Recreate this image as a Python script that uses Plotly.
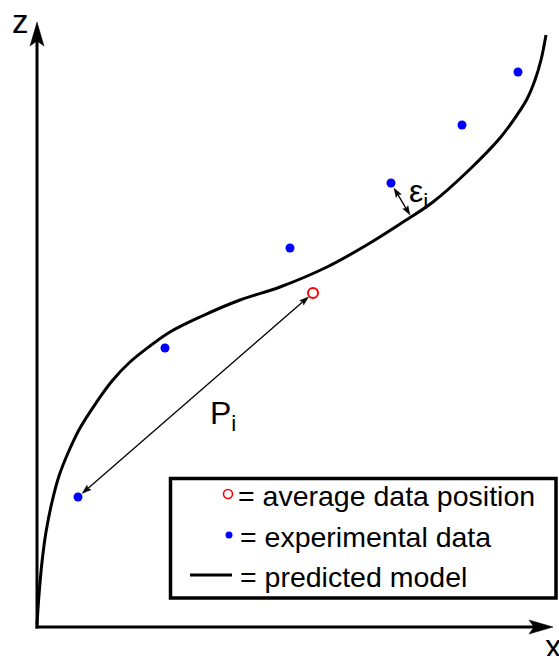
import math
import plotly.graph_objects as go

# Predicted model curve (x, z)
model_x = [0, 2, 5, 9, 15, 22, 31, 43, 59, 75, 93, 113, 133, 163, 203, 243, 290,
           328, 363, 396, 430, 463, 480, 490, 498, 504, 509]
model_z = [2, 32, 65, 95, 125, 151, 174, 199, 224, 246, 265, 281, 295, 310, 327, 340, 360,
           381, 403, 425, 455, 489, 512, 528, 547, 567, 592]

# Experimental data points
exp_x = [41, 128, 253, 354, 425, 481]
exp_z = [130, 279, 379, 444, 502, 555]

# Average data position
avg_x = [276]
avg_z = [334]

# Residual epsilon_i: from experimental point 3 to its foot on the model curve
eps_index = 3
eps_foot = (373, 412)

# Axis extents (1 unit = 1 px)
X_MIN, X_MAX = -37, 522
Z_MIN, Z_MAX = -29, 627
X_TIP = 516
Z_TIP = 605

FONT = "Liberation Sans, Arial, sans-serif"


def head_path(tx, ty, ux, uy, length, half, notch):
    px, py = -uy, ux
    bx, by = tx - ux * length, ty - uy * length
    nx, ny = tx - ux * (length - notch), ty - uy * (length - notch)
    return (f"M {tx:.2f},{ty:.2f} L {bx + px * half:.2f},{by + py * half:.2f} "
            f"L {nx:.2f},{ny:.2f} L {bx - px * half:.2f},{by - py * half:.2f} Z")


def arrow(x0, y0, x1, y1, width, length, half, notch, start=True, end=True,
          off0=0.0, off1=0.0):
    dx, dy = x1 - x0, y1 - y0
    d = math.hypot(dx, dy)
    ux, uy = dx / d, dy / d
    sx, sy = x0 + ux * off0, y0 + uy * off0
    ex, ey = x1 - ux * off1, y1 - uy * off1
    ls = [sx, sy, ex, ey]
    if start:
        ls[0] += ux * (length - notch)
        ls[1] += uy * (length - notch)
    if end:
        ls[2] -= ux * (length - notch)
        ls[3] -= uy * (length - notch)
    shapes = [dict(type="line", xref="x", yref="y", x0=ls[0], y0=ls[1], x1=ls[2], y1=ls[3],
                   line=dict(color="black", width=width))]
    if end:
        shapes.append(dict(type="path", xref="x", yref="y",
                           path=head_path(ex, ey, ux, uy, length, half, notch),
                           fillcolor="black", line=dict(color="black", width=0.5)))
    if start:
        shapes.append(dict(type="path", xref="x", yref="y",
                           path=head_path(sx, sy, -ux, -uy, length, half, notch),
                           fillcolor="black", line=dict(color="black", width=0.5)))
    return shapes


fig = go.Figure()

fig.add_trace(go.Scatter(x=model_x, y=model_z, mode="lines",
                         line=dict(color="black", width=3, shape="spline", smoothing=1.0),
                         hoverinfo="skip"))
fig.add_trace(go.Scatter(x=exp_x, y=exp_z, mode="markers",
                         marker=dict(color="#0000ff", size=9, line=dict(width=0)),
                         hoverinfo="skip"))
fig.add_trace(go.Scatter(x=avg_x, y=avg_z, mode="markers",
                         marker=dict(symbol="circle-open", color="#ff0000", size=10,
                                     line=dict(width=2, color="#ff0000")),
                         hoverinfo="skip"))

shapes = []
# Axes with arrowheads
shapes += arrow(0, -1.5, 0, Z_TIP, 3, 24, 7, 5, start=False)
shapes += arrow(-1.5, 0, X_TIP, 0, 3, 24, 7, 5, start=False)
# P_i: experimental point 0 to the average position
shapes += arrow(exp_x[0], exp_z[0], avg_x[0], avg_z[0], 1.3, 9, 3, 1.5,
                off0=5.5, off1=6)
# epsilon_i: experimental point to the model curve
shapes += arrow(exp_x[eps_index], exp_z[eps_index], eps_foot[0], eps_foot[1], 1.3, 9, 3, 1.5,
                off0=6, off1=0)

# Key box
LEG = dict(x0=133.5, x1=519, y0=29, y1=148.5)
shapes.append(dict(type="rect", xref="x", yref="y", **LEG,
                   line=dict(color="black", width=3.5), fillcolor="rgba(0,0,0,0)"))
# Key line sample for the model
shapes.append(dict(type="line", xref="x", yref="y", x0=153, x1=195, y0=52, y1=52,
                   line=dict(color="black", width=3)))

fig.add_trace(go.Scatter(x=[191], y=[133], mode="markers",
                         marker=dict(symbol="circle-open", color="#ff0000", size=9,
                                     line=dict(width=1.6, color="#ff0000")),
                         hoverinfo="skip"))
fig.add_trace(go.Scatter(x=[192], y=[92], mode="markers",
                         marker=dict(color="#0000ff", size=7, line=dict(width=0)),
                         hoverinfo="skip"))

key_texts = ["= average data position", "= experimental data", "= predicted model"]
key_pos = [(199, 131), (201, 90), (201, 50)]

annotations = []
for t, (kx, kz) in zip(key_texts, key_pos):
    annotations.append(dict(x=kx, y=kz, xref="x", yref="y", text=t, showarrow=False,
                            xanchor="left", yanchor="middle",
                            font=dict(family=FONT, size=28.5, color="black")))

annotations += [
    dict(x=-17, y=606, xref="x", yref="y", text="z", showarrow=False,
         xanchor="center", yanchor="middle", font=dict(family=FONT, size=33, color="black")),
    dict(x=516, y=-19, xref="x", yref="y", text="x", showarrow=False,
         xanchor="center", yanchor="middle", font=dict(family=FONT, size=33, color="black")),
    dict(x=171, y=212, xref="x", yref="y", text="P<sub>i</sub>", showarrow=False,
         xanchor="left", yanchor="middle", font=dict(family=FONT, size=32, color="black")),
    dict(x=370, y=434, xref="x", yref="y", text="\u03b5<sub>i</sub>", showarrow=False,
         xanchor="left", yanchor="middle", font=dict(family=FONT, size=32, color="black")),
]

fig.update_layout(
    width=559, height=656, autosize=False,
    margin=dict(l=0, r=0, t=0, b=0, pad=0),
    paper_bgcolor="white", plot_bgcolor="white",
    showlegend=False,
    xaxis=dict(range=[X_MIN, X_MAX], visible=False, fixedrange=True),
    yaxis=dict(range=[Z_MIN, Z_MAX], visible=False, fixedrange=True),
    shapes=shapes,
    annotations=annotations,
)

fig.write_html("out.html", config={"displayModeBar": False})
